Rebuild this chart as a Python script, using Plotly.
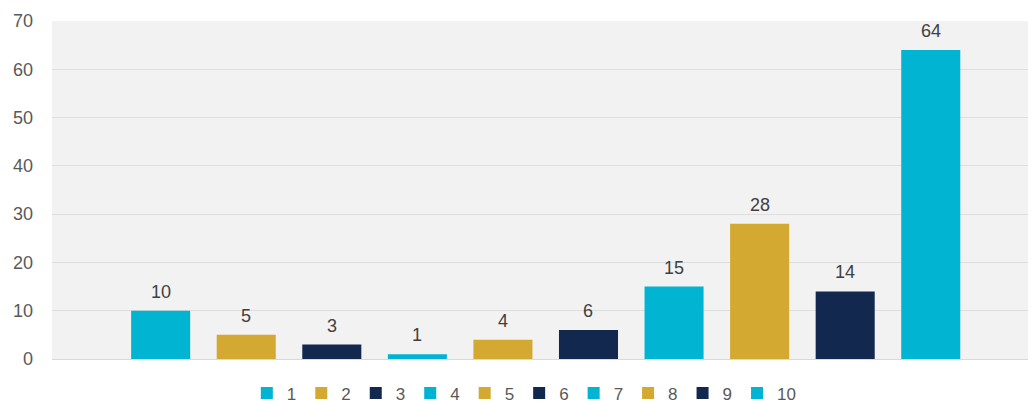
import plotly.graph_objects as go

series_names = ["1", "2", "3", "4", "5", "6", "7", "8", "9", "10"]
values = [10, 5, 3, 1, 4, 6, 15, 28, 14, 64]
colors = ["#00B4D2", "#D4A932", "#13284F", "#00B4D2", "#D4A932",
          "#13284F", "#00B4D2", "#D4A932", "#13284F", "#00B4D2"]
y_ticks = [0, 10, 20, 30, 40, 50, 60, 70]

FONT = "Liberation Sans, Arial, sans-serif"

fig = go.Figure()
for i, (name, v, c) in enumerate(zip(series_names, values, colors)):
    fig.add_trace(go.Bar(
        x=[i], y=[v], name=name, width=0.69,
        marker=dict(color=c, line=dict(width=0)),
        hoverinfo="name+y",
    ))
    fig.add_annotation(
        x=i, y=v, text=str(v), showarrow=False,
        yanchor="bottom", yshift=7,
        font=dict(family=FONT, size=18, color="#404040"),
    )

# page body adds an 8px margin, so the figure is 8px smaller and shifted
fig.update_layout(
    width=1028, height=404,
    margin=dict(l=44, r=0, t=13, b=50),
    paper_bgcolor="white",
    plot_bgcolor="#f2f2f2",
    barmode="overlay",
    font=dict(family=FONT, size=18, color="#595959"),
    showlegend=True,
    legend=dict(
        orientation="h", x=0.48, xanchor="center",
        y=-0.102, yanchor="middle",
        font=dict(family=FONT, size=17, color="#595959"),
        itemwidth=30,
        bgcolor="rgba(0,0,0,0)",
    ),
    xaxis=dict(
        range=[-1.27, 10.23], showticklabels=False, showgrid=False,
        zeroline=False, showline=False, ticks="",
    ),
    yaxis=dict(
        range=[0, 70], tickvals=y_ticks, ticktext=[str(t) for t in y_ticks],
        showgrid=True, gridcolor="#dedede", gridwidth=1,
        zeroline=True, zerolinecolor="#d9d9d9", zerolinewidth=1,
        showline=False, ticks="", ticklabelstandoff=18,
        tickfont=dict(family=FONT, size=18, color="#595959"),
    ),
)

fig.write_html("out.html")
